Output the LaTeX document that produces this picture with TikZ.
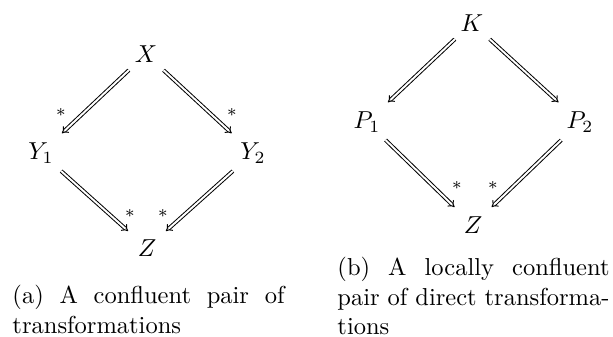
\documentclass[tikz,border=0pt]{standalone}
\usepackage{amsmath}
\usepackage{amssymb}
\usepackage{tikz}
\usetikzlibrary{arrows.meta,positioning}

\tikzset{
  obj/.style={inner sep=3pt},
  trans/.style={double, double distance=0.8pt, -{Implies}, shorten >=1pt},
  star/.style={inner sep=0pt, font=\scriptsize},
  capbox/.style={anchor=north west, inner sep=0pt, text width=111pt, align=justify}
}

\begin{document}
\begin{tikzpicture}[x=0.408pt, y=-0.408pt]
\useasboundingbox (0,0) rectangle (613,336);
% (a) confluent pair
\node (x) [obj] at (146,54) {$X$};
\node (y1) [obj] at (41,153) {$Y_1$};
\node (y2) [obj] at (253,153) {$Y_2$};
\node (za) [obj] at (147,248) {$Z$};
\draw [trans] (x) -- (y1);
\draw [trans] (x) -- (y2);
\draw [trans] (y1) -- (za);
\draw [trans] (y2) -- (za);
\node (sa1) [star] at (61,112) {$*$};
\node (sa2) [star] at (232,112) {$*$};
\node (sa3) [star] at (130,213) {$*$};
\node (sa4) [star] at (163,213) {$*$};
% (b) locally confluent pair
\node (k) [obj] at (472,23) {$K$};
\node (p1) [obj] at (367,122) {$P_1$};
\node (p2) [obj] at (580,122) {$P_2$};
\node (zb) [obj] at (473,225) {$Z$};
\draw [trans] (k) -- (p1);
\draw [trans] (k) -- (p2);
\draw [trans] (p1) -- (zb);
\draw [trans] (p2) -- (zb);
\node (sb1) [star] at (457,185) {$*$};
\node (sb2) [star] at (493,185) {$*$};
% captions
\node (capa) [capbox] at (12,285) {(a) A confluent pair of transformations};
\node (capb) [capbox] at (337,257) {(b) A locally confluent pair of direct transformations};
\end{tikzpicture}
\end{document}
